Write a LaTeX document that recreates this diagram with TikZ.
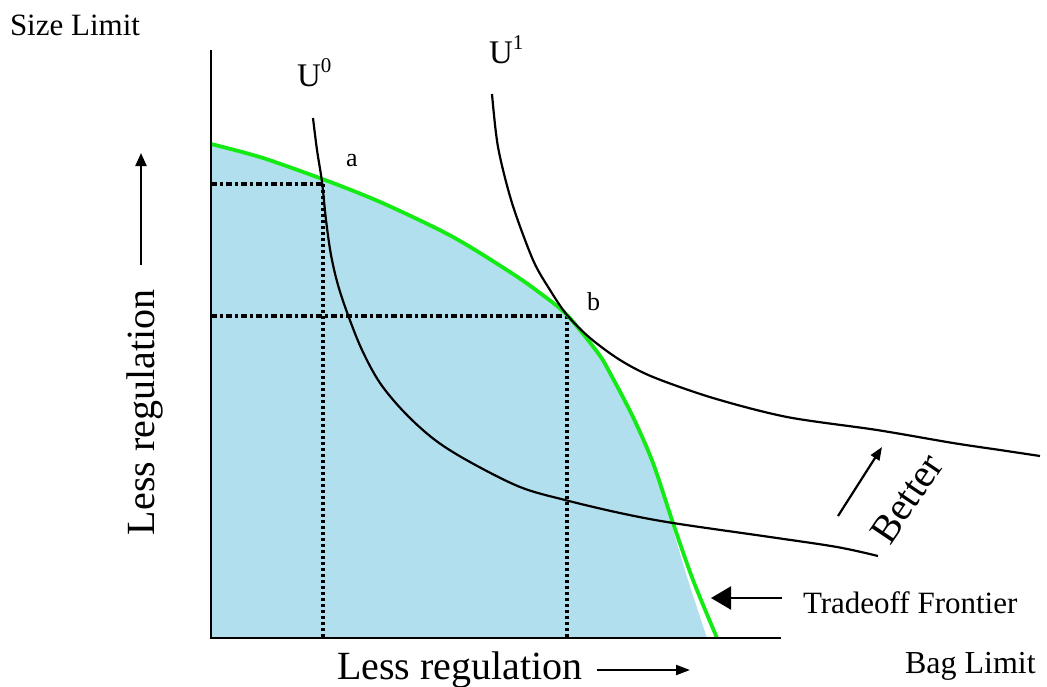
\documentclass[tikz,border=0pt]{standalone}
\usepackage{fontspec}
\setmainfont{Liberation Serif}
\usetikzlibrary{arrows.meta}
\definecolor{regblue}{RGB}{178,223,238}
\definecolor{frontgreen}{RGB}{20,235,20}
\tikzset{
  lbl/.style={inner sep=0pt, outer sep=0pt, font=#1},
  axisline/.style={line width=2.4pt, black},
  ucurve/.style={line width=2.2pt, black, line join=round},
  frontier/.style={line width=3.8pt, frontgreen, line join=round},
  guideh/.style={line width=3.4pt, black, dash pattern=on 6pt off 3pt on 3pt off 3pt},
  guidev/.style={line width=3.4pt, black, dash pattern=on 3.4pt off 2.6pt},
}
\newcommand{\fs}[1]{\fontsize{#1}{#1}\selectfont}
\newcommand{\upsup}[1]{\raisebox{0.42em}{\fs{21}#1}}
\begin{document}
\begin{tikzpicture}[x=1pt,y=-1pt]
\useasboundingbox (0,0) rectangle (1047,686);

% fill
\fill[regblue] (211,638) -- (211,144)
  -- plot[smooth, tension=0.5] coordinates {(211,144) (263,158) (333,183) (387,205) (453,237) (510,272) (540,293) (567,315) (598,353) (610,373) (633,417) (653,463) (671,523) (688,580) (707,638)} -- cycle;

% guide lines
\draw[guideh] (211,184) -- (323,184);
\draw[guidev] (323,184) -- (323,638);
\draw[guideh] (211,316) -- (567,316);
\draw[guidev] (567,316) -- (567,638);

% frontier
\draw[frontier] plot[smooth, tension=0.5] coordinates {(211,144) (263,158) (333,183) (387,205) (453,237) (510,272) (540,293) (567,315) (598,353) (610,373) (633,417) (653,463) (673,523) (693,580) (717,638)};

% indifference curves
\draw[ucurve] plot[smooth, tension=0.55] coordinates {(313,118) (317,150) (322,182) (326,220) (331,255) (338,285) (348,315) (362,350) (380,383) (405,413) (435,440) (470,462) (520,487) (565,500) (620,513) (673,523) (770,537) (837,547) (878,556)};
\draw[ucurve] plot[smooth, tension=0.5] coordinates {(492,94) (498,147) (512,203) (533,260) (550,290) (567,315) (590,338) (620,360) (653,377) (713,398) (787,417) (877,430) (953,443) (1000,450) (1040,456)};

% axes
\coordinate (ytop) at (211,50);
\coordinate (orig) at (211,638);
\coordinate (xend) at (781,638);
\draw[axisline] (ytop) -- (orig) -- (xend);

% labels
\node[lbl=\fs{31}, anchor=base west] (size) at (10,35) {Size Limit};
\node[lbl=\fs{33}, anchor=base west] (u0) at (297,86) {U\upsup{0}};
\node[lbl=\fs{33}, anchor=base west] (u1) at (489,63) {U\upsup{1}};
\node[lbl=\fs{26}, anchor=base west] (pa) at (346,166) {a};
\node[lbl=\fs{26}, anchor=base west] (pb) at (587,310) {b};
\node[lbl=\fs{40}, anchor=base west, rotate=90] (yreg) at (154,535) {Less regulation};
\node[lbl=\fs{40}, anchor=base west] (xreg) at (337,679) {Less regulation};
\node[lbl=\fs{40}, anchor=base west, rotate=56] (better) at (890,546) {Better};
\node[lbl=\fs{31}, anchor=base west] (trade) at (803,613) {Tradeoff Frontier};
\node[lbl=\fs{32}, anchor=base west] (bag) at (905,673) {Bag Limit};

% arrows
\coordinate (upA) at (141,265);
\coordinate (upB) at (141,153);
\draw[line width=2.2pt, -{Triangle[length=13pt,width=11pt]}] (upA) -- (upB);
\coordinate (rtA) at (597,670);
\coordinate (rtB) at (690,670);
\draw[line width=2.2pt, -{Triangle[length=14pt,width=10pt]}] (rtA) -- (rtB);
\coordinate (btA) at (838,516);
\coordinate (btB) at (882,447);
\draw[line width=2.2pt, -{Triangle[length=13pt,width=10pt]}] (btA) -- (btB);
\coordinate (trA) at (782,598);
\coordinate (trB) at (711,598);
\draw[line width=2.2pt, -{Triangle[length=20pt,width=23pt]}] (trA) -- (trB);
\end{tikzpicture}
\end{document}
